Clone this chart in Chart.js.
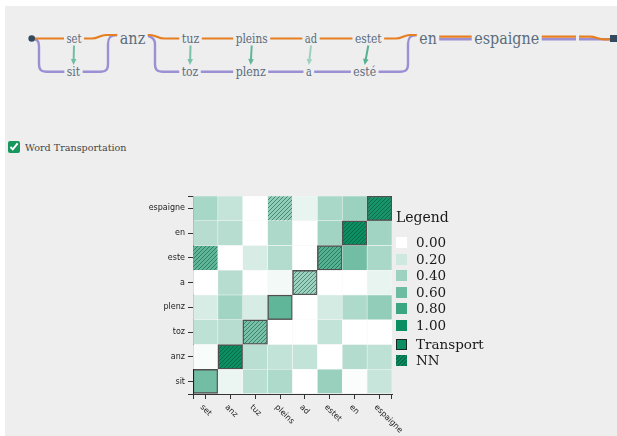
<!DOCTYPE html>
<html>
<head>
<meta charset="utf-8">
<script src="https://cdn.jsdelivr.net/npm/chart.js@4.4.1/dist/chart.umd.min.js"></script>
<style>
  body { margin: 0; width: 617px; height: 436px; background: #fff; position: relative; overflow: hidden; }
  #panel { position: absolute; left: 5px; top: 6px; right: 0; bottom: 0; background: #eeeeee; }
  #diagram { position: absolute; left: 0; top: 0; }
  #toggle { position: absolute; left: 8px; top: 141px; font: 9.6px 'DejaVu Serif'; color: #454545; display: flex; align-items: center; }
  #toggle input { margin: 0 5px 0 0; width: 12px; height: 12px; accent-color: #17975f; }
  #heat { position: absolute; left: 130px; top: 186px; }
  #legend { position: absolute; left: 396px; top: 209px; font: 13.5px 'DejaVu Serif'; color: #1a1a1a; }
  #legend .row { position: absolute; left: 0; height: 16px; white-space: nowrap; }
  #legend .sw { position: absolute; left: 0; top: 2px; width: 11px; height: 11px; box-sizing: border-box; }
  #legend .tx { position: absolute; left: 20px; top: -1px; }
</style>
</head>
<body>
<div id="panel"></div>
<svg id="diagram" width="617" height="100"></svg>
<label id="toggle"><input type="checkbox" checked>Word Transportation</label>
<canvas id="heat" width="300" height="250"></canvas>
<div id="legend"></div>

<script>
// colonne (parole sorgente) e righe (parole destinazione, dall'alto in basso)
const cols = ['set', 'anz', 'tuz', 'pleins', 'ad', 'estet', 'en', 'espaigne'];
const rows = ['espaigne', 'en', 'este', 'a', 'plenz', 'toz', 'anz', 'sit'];

// valori della matrice, una riga per parola
const values = [
  [0.36, 0.24, 0.00, 0.45, 0.10, 0.35, 0.41, 0.95],
  [0.30, 0.30, 0.00, 0.34, 0.00, 0.38, 1.00, 0.38],
  [0.65, 0.00, 0.17, 0.31, 0.00, 0.70, 0.58, 0.35],
  [0.00, 0.30, 0.00, 0.05, 0.40, 0.00, 0.00, 0.10],
  [0.17, 0.38, 0.17, 0.65, 0.00, 0.18, 0.33, 0.45],
  [0.27, 0.30, 0.55, 0.00, 0.00, 0.25, 0.00, 0.00],
  [0.03, 1.00, 0.29, 0.25, 0.25, 0.00, 0.31, 0.27],
  [0.58, 0.08, 0.29, 0.33, 0.00, 0.42, 0.02, 0.23]
];

// celle [riga, colonna] con bordo (Transport) e tratteggio (NN)
const transportCells = [[7, 0], [6, 1], [5, 2], [4, 3], [3, 4], [2, 5], [1, 6], [0, 7]];
const nnCells = [[0, 3], [0, 7], [1, 6], [2, 0], [2, 5], [3, 4], [5, 2], [6, 1]];

// legenda
const legendValues = [0, 0.2, 0.4, 0.6, 0.8, 1.0];
const legendExtras = ['Transport', 'NN'];

// parole del diagramma in alto
const topWords = ['set', 'anz', 'tuz', 'pleins', 'ad', 'estet', 'en', 'espaigne'];
const bottomWords = ['sit', '', 'toz', 'plenz', 'a', 'esté', '', ''];

// colore: da bianco a verde
function heat(v) {
  const r = Math.round(255 - v * 244), g = Math.round(255 - v * 112), b = Math.round(255 - v * 157);
  return `rgb(${r},${g},${b})`;
}
const hatchInk = 'rgba(0,70,45,0.5)';
const has = (list, r, c) => list.some(p => p[0] === r && p[1] === c);

// ---------- diagramma in alto (SVG) ----------
const svg = document.getElementById('diagram');
const NS = 'http://www.w3.org/2000/svg';
function el(name, attrs, parent = svg) {
  const e = document.createElementNS(NS, name);
  for (const k in attrs) e.setAttribute(k, attrs[k]);
  parent.appendChild(e);
  return e;
}
// posizioni (layout)
const topX = [74, 132.5, 190.5, 251.7, 311, 368.3, 428, 506.7];
const topW = [15, 25.5, 17.5, 32, 12.3, 26.7, 17.4, 65];
const botX = [73.5, 0, 190, 250.7, 308.8, 364.7];
const botW = [13.3, 0, 16.6, 30, 5.7, 22.7];
const purple = '#9a90d3', orange = '#e67e22', ink = '#5b6c7d';

el('path', { d: 'M31.7,38.5 C37,38.5 39,41 39,46 V64 C39,69.7 41,71.7 47,71.7 H100 C106,71.7 108,69.7 108,64 V44 C108,37 111,35 117,35 H130' +
  ' M140,35 C150,35 155,38 155,44 V64 C155,69.7 157,71.7 163,71.7 H400 C406,71.7 408,69.7 408,64 V44 C408,37 411,35 417,35 H425' +
  ' M430,39.3 H576 M579,39.3 H611', fill: 'none', stroke: purple, 'stroke-width': 2.4 });
el('path', { d: 'M31.7,38.5 H92 C98,38.5 100,35 106,35 H150 C156,35 158,38.5 164,38.5 H396 C402,38.5 404,35 410,35 H425' +
  ' M430,36.7 H576 M579,36.7 H590 C596,36.7 598,39.3 604,39.3 H611', fill: 'none', stroke: orange, 'stroke-width': 2.2 });
el('circle', { cx: 31.7, cy: 38.5, r: 3.3, fill: '#34495e' });
el('rect', { x: 610, y: 35, width: 7, height: 7, fill: '#34495e' });

function word(text, cx, base, w, size) {
  el('rect', { x: cx - w / 2 - 2.5, y: base - size * 0.85, width: w + 5, height: size * 1.05, fill: '#eeeeee' });
  el('text', { x: cx - w / 2, y: base, 'font-family': 'DejaVu Serif', 'font-size': size, fill: ink,
    textLength: w, lengthAdjust: 'spacingAndGlyphs' }).textContent = text;
}
topWords.forEach((t, i) => {
  const big = bottomWords[i] === '';
  word(t, topX[i], big ? 44.3 : 43, topW[i], big ? 17 : 13);
});
bottomWords.forEach((t, i) => { if (t) word(t, botX[i], 76, botW[i], 13); });

// frecce verdi: colore dal valore di trasporto sulla diagonale
bottomWords.forEach((t, i) => {
  if (!t) return;
  const v = values[rows.length - 1 - i][i];
  const x1 = topX[i], y1 = 45.5, x2 = botX[i], y2 = 65;
  const ang = Math.atan2(y2 - y1, x2 - x1);
  const hx = x2 - 6 * Math.cos(ang), hy = y2 - 6 * Math.sin(ang);
  const px = -Math.sin(ang) * 2.8, py = Math.cos(ang) * 2.8;
  el('line', { x1, y1, x2: hx, y2: hy, stroke: heat(v), 'stroke-width': 2 });
  el('polygon', { points: `${x2},${y2} ${hx + px},${hy + py} ${hx - px},${hy - py}`, fill: heat(v) });
});

// ---------- heatmap con Chart.js ----------
const canvas = document.getElementById('heat');
const ctx = canvas.getContext('2d');
function hatch(base) {
  const c = document.createElement('canvas');
  c.width = 4; c.height = 4;
  const g = c.getContext('2d');
  g.fillStyle = base; g.fillRect(0, 0, 4, 4);
  g.strokeStyle = hatchInk; g.lineWidth = 1;
  g.beginPath();
  g.moveTo(0, 4); g.lineTo(4, 0);
  g.moveTo(-1, 1); g.lineTo(1, -1);
  g.moveTo(3, 5); g.lineTo(5, 3);
  g.stroke();
  return ctx.createPattern(c, 'repeat');
}

const datasets = [];
for (let r = rows.length - 1; r >= 0; r--) {
  datasets.push({
    label: rows[r],
    data: cols.map(() => 1),
    backgroundColor: cols.map((c, i) => has(nnCells, r, i) ? hatch(heat(values[r][i])) : heat(values[r][i])),
    borderColor: cols.map((c, i) => has(transportCells, r, i) ? 'rgba(25,25,25,0.75)' : 'rgba(255,255,255,0.45)'),
    borderWidth: cols.map((c, i) => has(transportCells, r, i) ? 1.5 : 0.6),
    borderSkipped: false,
    categoryPercentage: 1,
    barPercentage: 1,
    stack: 'cells'
  });
}

// etichette x ruotate di 45 gradi + tacche esterne (stile d3)
const axisExtras = {
  id: 'axisExtras',
  afterDraw(chart) {
    const xs = chart.scales.x, c = chart.ctx, a = chart.chartArea;
    c.save();
    c.strokeStyle = '#333';
    c.lineWidth = 1;
    c.beginPath();
    c.moveTo(a.left + 0.5, a.bottom); c.lineTo(a.left + 0.5, a.bottom + 5);
    c.moveTo(a.right - 0.5, a.bottom); c.lineTo(a.right - 0.5, a.bottom + 5);
    c.stroke();
    c.font = '8px "DejaVu Sans"';
    c.fillStyle = '#222';
    c.textAlign = 'left';
    c.textBaseline = 'middle';
    cols.forEach((t, i) => {
      c.save();
      c.translate(xs.getPixelForValue(i) - 4, xs.top + 12);
      c.rotate(Math.PI / 4);
      c.fillText(t, 0, 0);
      c.restore();
    });
    c.restore();
  }
};

const edgeTicks = (n) => [0, ...Array.from({ length: n }, (_, k) => k + 0.5), n];

new Chart(ctx, {
  type: 'bar',
  data: { labels: cols, datasets },
  options: {
    responsive: false,
    animation: false,
    layout: { padding: { left: 0, top: 10, right: 38, bottom: 0 } },
    plugins: { legend: { display: false }, tooltip: { enabled: false } },
    scales: {
      x: {
        type: 'category', offset: true, stacked: true,
        afterFit: s => { s.height = 42; },
        ticks: { display: false },
        grid: { offset: false, drawOnChartArea: false, drawTicks: true, tickLength: 5, tickColor: '#333', color: '#333' },
        border: { display: true, color: '#333', width: 1 }
      },
      y: {
        type: 'linear', min: 0, max: rows.length, stacked: true,
        afterBuildTicks: s => { s.ticks = edgeTicks(rows.length).map(v => ({ value: v })); },
        afterFit: s => { s.width = 63; },
        ticks: {
          autoSkip: false, padding: 3, color: '#222',
          font: { family: 'DejaVu Sans', size: 8 },
          callback: v => Number.isInteger(v) ? '' : rows[rows.length - 1 - Math.floor(v)]
        },
        grid: { drawOnChartArea: false, drawTicks: true, tickLength: 5, tickColor: '#333', color: '#333' },
        border: { display: true, color: '#333', width: 1 }
      }
    }
  },
  plugins: [axisExtras]
});

// ---------- legenda (HTML) ----------
const legend = document.getElementById('legend');
function legendRow(top, label, style) {
  const row = document.createElement('div');
  row.className = 'row';
  row.style.top = top + 'px';
  row.innerHTML = `<div class="sw" style="${style}"></div><div class="tx">${label}</div>`;
  legend.appendChild(row);
}
const title = document.createElement('div');
title.textContent = 'Legend';
title.style.cssText = 'position:absolute;left:0;top:0;font-size:14px;';
legend.appendChild(title);
legendValues.forEach((v, k) => legendRow(26 + k * 16.6, v.toFixed(2), `background:${heat(v)}`));
legendRow(128, legendExtras[0], `background:${heat(1)};border:1.5px solid rgba(25,25,25,0.85)`);
legendRow(143.5, legendExtras[1],
  `background:repeating-linear-gradient(135deg, ${hatchInk} 0 1px, transparent 1px 2.8px), ${heat(1)}`);
</script>
</body>
</html>
